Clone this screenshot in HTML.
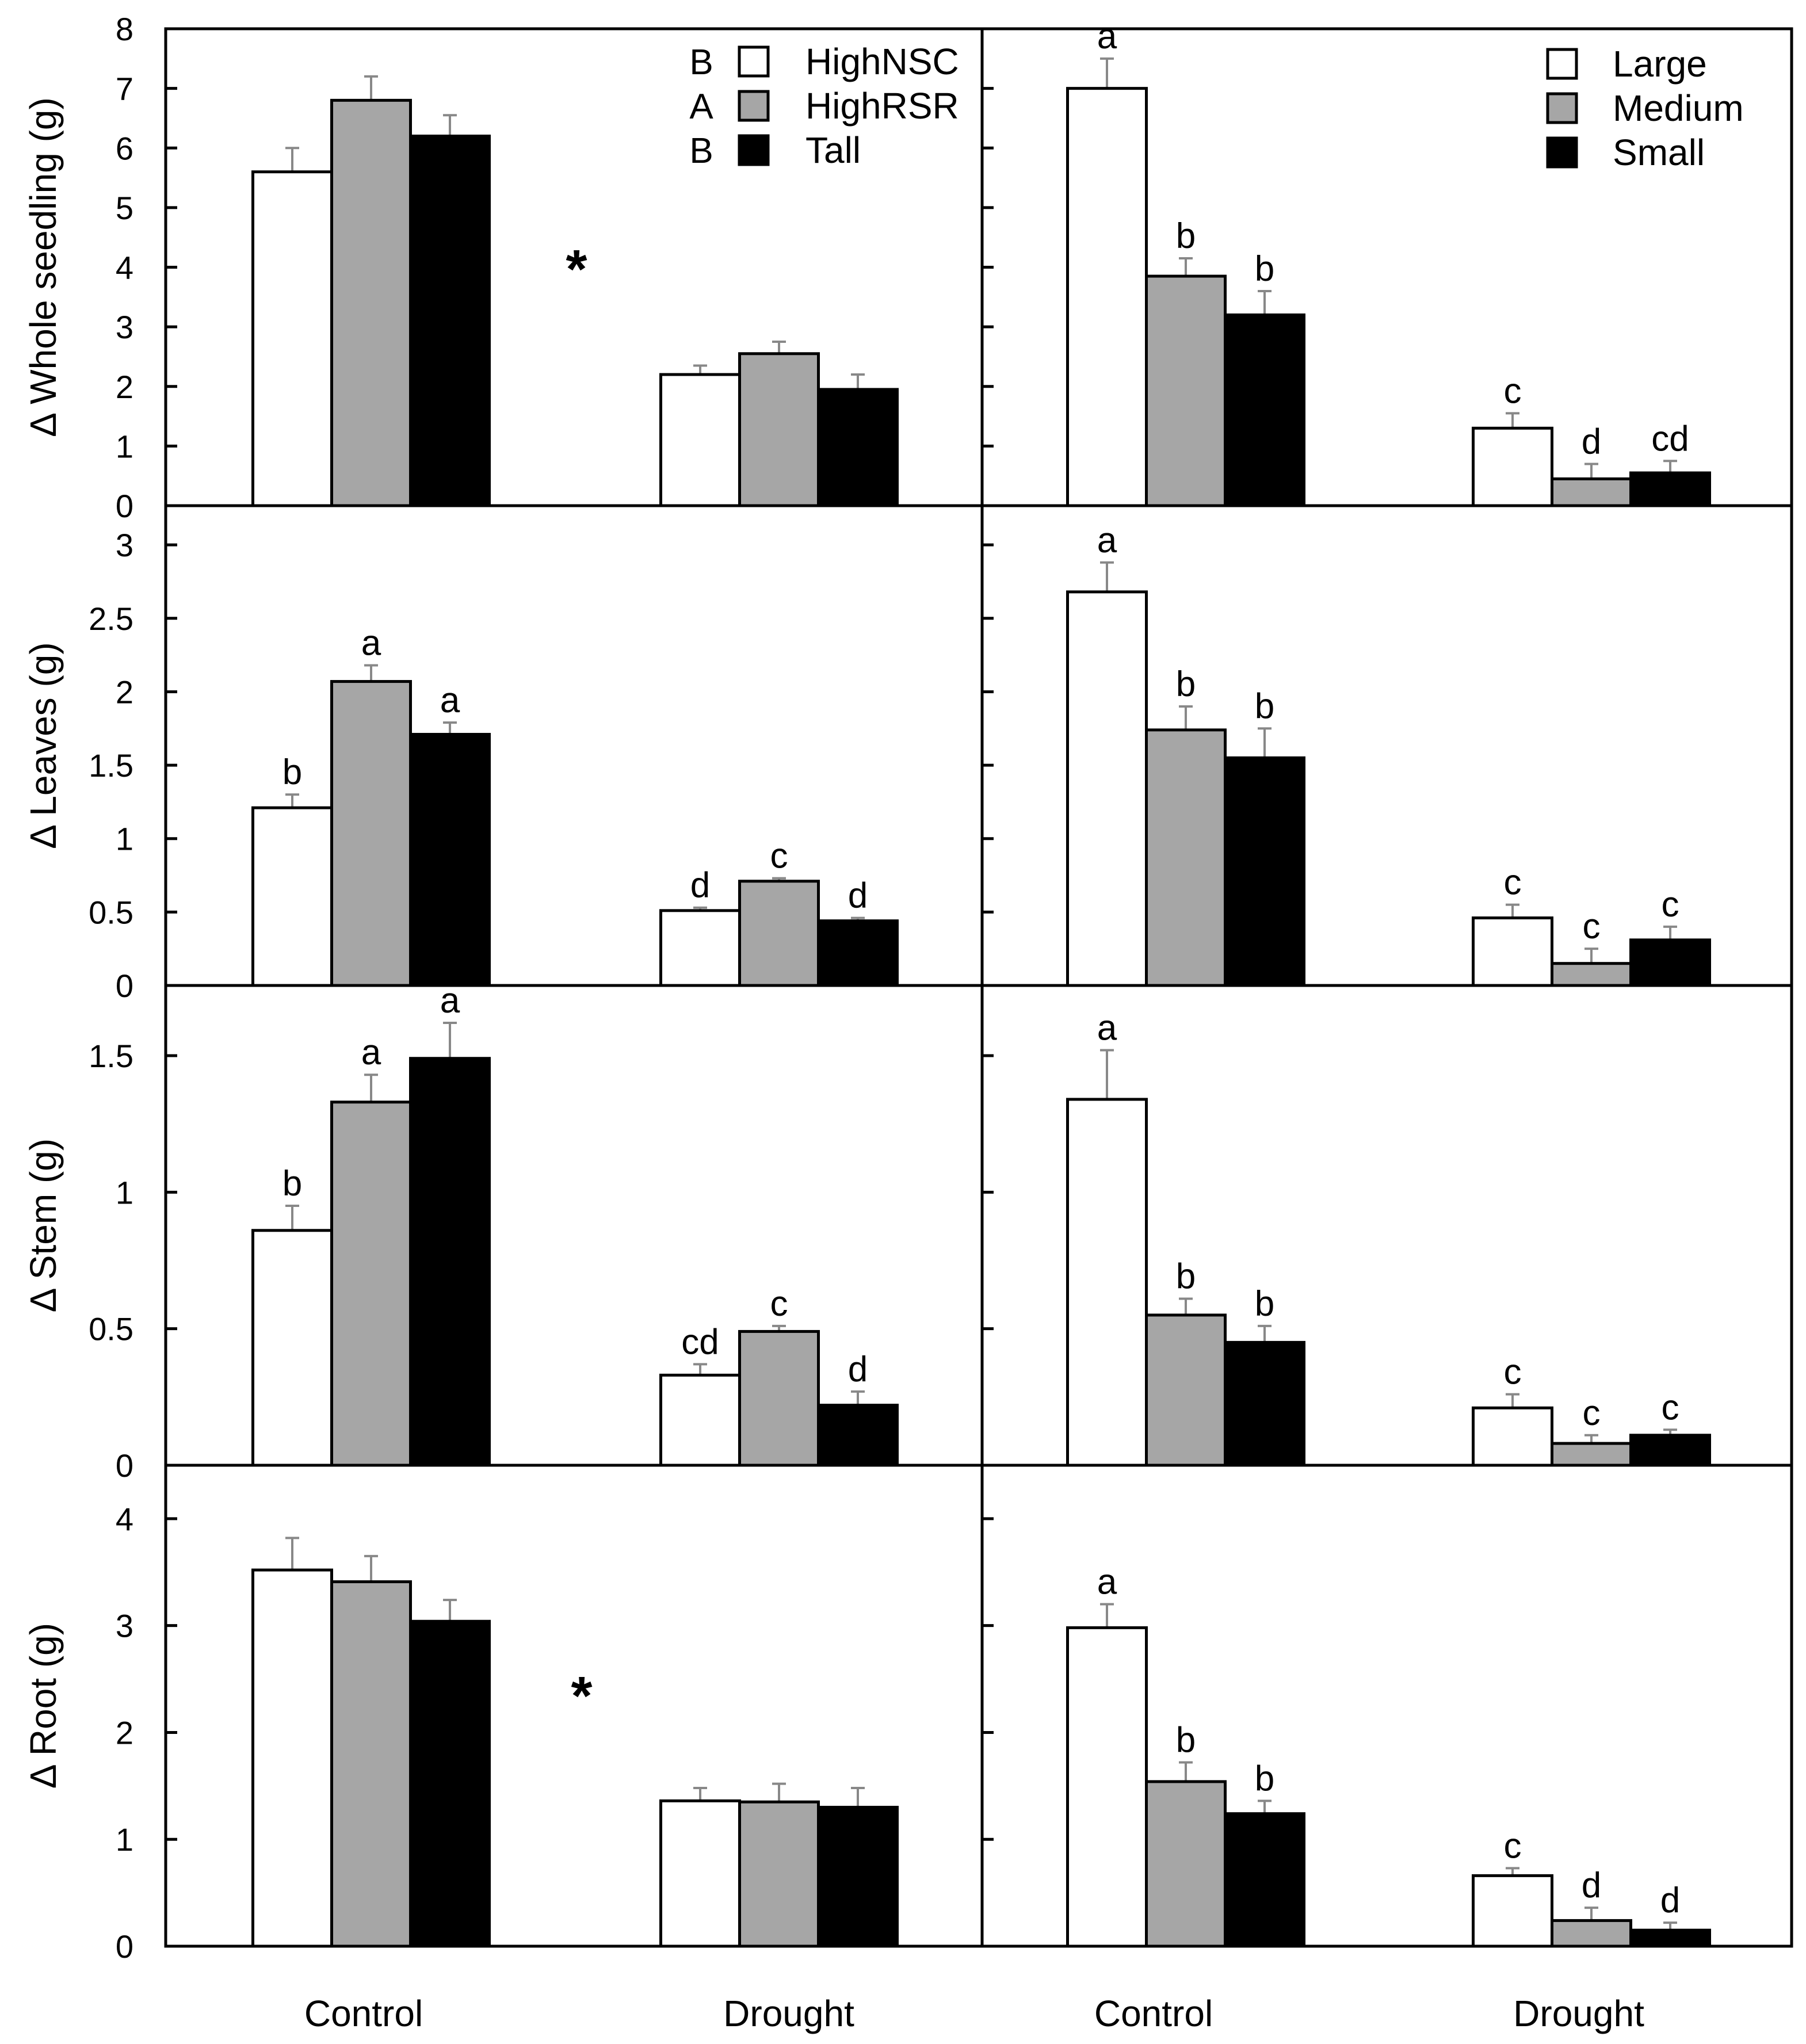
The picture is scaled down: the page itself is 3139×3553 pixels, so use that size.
<!DOCTYPE html>
<html><head><meta charset="utf-8"><style>
html,body{margin:0;padding:0;background:#fff}
svg{display:block;font-family:"Liberation Sans",Arial,sans-serif}
</style></head><body>
<svg id="chart" width="3139" height="3553" viewBox="0 0 3139 3553" xmlns="http://www.w3.org/2000/svg"></svg>
<script>
const categories = ["Control","Drought"];
const leftSeries = ["HighNSC","HighRSR","Tall"];
const rightSeries = ["Large","Medium","Small"];
const rowTitles = ["Δ Whole seedling (g)","Δ Leaves (g)","Δ Stem (g)","Δ Root (g)"];
const rowMax = [8, 3.267, 1.757, 4.5];
const rowTicks = [[0,1,2,3,4,5,6,7,8],[0,0.5,1,1.5,2,2.5,3],[0,0.5,1,1.5],[0,1,2,3,4]];
const leftVals = [[5.6,6.8,6.2,2.2,2.55,1.95],[1.21,2.07,1.71,0.51,0.71,0.44],[0.86,1.33,1.49,0.33,0.49,0.22],[3.52,3.41,3.04,1.36,1.35,1.3]];
const leftErr  = [[6.0,7.2,6.55,2.35,2.75,2.2],[1.3,2.18,1.79,0.53,0.73,0.46],[0.95,1.43,1.62,0.37,0.51,0.27],[3.82,3.65,3.24,1.48,1.52,1.48]];
const leftLetters = [["","","","","",""],["b","a","a","d","c","d"],["b","a","a","cd","c","d"],["","","","","",""]];
const rightVals = [[7.0,3.85,3.2,1.3,0.45,0.55],[2.68,1.74,1.55,0.46,0.15,0.31],[1.34,0.55,0.45,0.21,0.08,0.11],[2.98,1.54,1.24,0.66,0.24,0.15]];
const rightErr  = [[7.5,4.15,3.6,1.55,0.7,0.75],[2.88,1.9,1.75,0.55,0.25,0.4],[1.52,0.61,0.51,0.26,0.11,0.13],[3.2,1.72,1.36,0.73,0.36,0.22]];
const rightLetters = [["a","b","b","c","d","cd"],["a","b","b","c","c","c"],["a","b","b","c","c","c"],["a","b","b","c","d","d"]];
const legendLetters = ["B","A","B"];

const NS="http://www.w3.org/2000/svg";
const svg=document.getElementById('chart');
function mk(t,a,txt){const e=document.createElementNS(NS,t);for(const k in a)e.setAttribute(k,a[k]);if(txt!==undefined)e.textContent=txt;svg.appendChild(e);return e;}
const fills=["#ffffff","#a6a6a6","#000000"];
const rowTop=[50,879,1713,2547], rowZero=[879,1713,2547,3383];
const X0=288, XM=1707, X1=3114, BW=137;
const centers=[[645,1354],[2061,2766]];
const labelX=[[632,1371],[2005,2744]];
function yS(r,v){return rowZero[r]-(rowZero[r]-rowTop[r])*v/rowMax[r];}

for(let r=0;r<4;r++){
  let b=mk('rect',{x:X0,y:rowTop[r],width:XM-X0,height:rowZero[r]-rowTop[r],fill:'none',stroke:'#000','stroke-width':5});
  
  b=mk('rect',{x:XM,y:rowTop[r],width:X1-XM,height:rowZero[r]-rowTop[r],fill:'none',stroke:'#000','stroke-width':5});
  
  rowTicks[r].forEach(t=>{
    const y=yS(r,t);
    mk('line',{x1:X0,y1:y,x2:X0+20,y2:y,stroke:'#000','stroke-width':5});
    mk('line',{x1:XM,y1:y,x2:XM+20,y2:y,stroke:'#000','stroke-width':5});
    const tl=mk('text',{x:232,y:y+20,'font-size':56,'text-anchor':'end'},String(t));
    
  });
  const cy=(rowTop[r]+rowZero[r])/2;
  const yt=mk('text',{x:0,y:0,'font-size':64,'text-anchor':'middle',transform:`translate(97,${cy}) rotate(-90)`},rowTitles[r]);
  
  [[leftVals,leftErr,leftLetters,0],[rightVals,rightErr,rightLetters,1]].forEach(([V,E,L,p])=>{
    for(let g=0;g<2;g++)for(let s=0;s<3;s++){
      const i=g*3+s, x=centers[p][g]+(s-1)*BW-BW/2;
      const yv=yS(r,V[r][i]), ye=yS(r,E[r][i]), xc=x+BW/2;
      const er=mk('line',{x1:xc,y1:ye,x2:xc,y2:yv,stroke:'#888','stroke-width':4});
      
      mk('line',{x1:xc-12,y1:ye,x2:xc+12,y2:ye,stroke:'#888','stroke-width':4});
      const bar=mk('rect',{x:x,y:yv,width:BW,height:rowZero[r]-yv,fill:fills[s],stroke:'#000','stroke-width':5});
      
      
      if(L[r][i]){const lt=mk('text',{x:xc,y:ye-18,'font-size':62,'text-anchor':'middle'},L[r][i]);
        }
    }
  });
}
[[1002,500],[1011,2980]].forEach(([x,y])=>{const s=mk('text',{x:x,y:y,'font-size':95,'font-weight':'bold','text-anchor':'middle'},'*');
  });
labelX.forEach(cs=>cs.forEach((c,g)=>{const t=mk('text',{x:c,y:3522,'font-size':64,'text-anchor':'middle'},categories[g]);
  }));
for(let s=0;s<3;s++){
  const y=107+s*77;
  const l1=mk('text',{x:1219,y:y+22,'font-size':62,'text-anchor':'middle'},legendLetters[s]);
  
  let r1=mk('rect',{x:1285,y:y-25,width:50,height:50,fill:fills[s],stroke:'#000','stroke-width':5});
  
  let t1=mk('text',{x:1400,y:y+22,'font-size':64},leftSeries[s]);
  
  const y2=111+s*77;
  let r2=mk('rect',{x:2690,y:y2-25,width:50,height:50,fill:fills[s],stroke:'#000','stroke-width':5});
  
  let t2=mk('text',{x:2803,y:y2+22,'font-size':64},rightSeries[s]);
  
}
</script>
</body></html>
